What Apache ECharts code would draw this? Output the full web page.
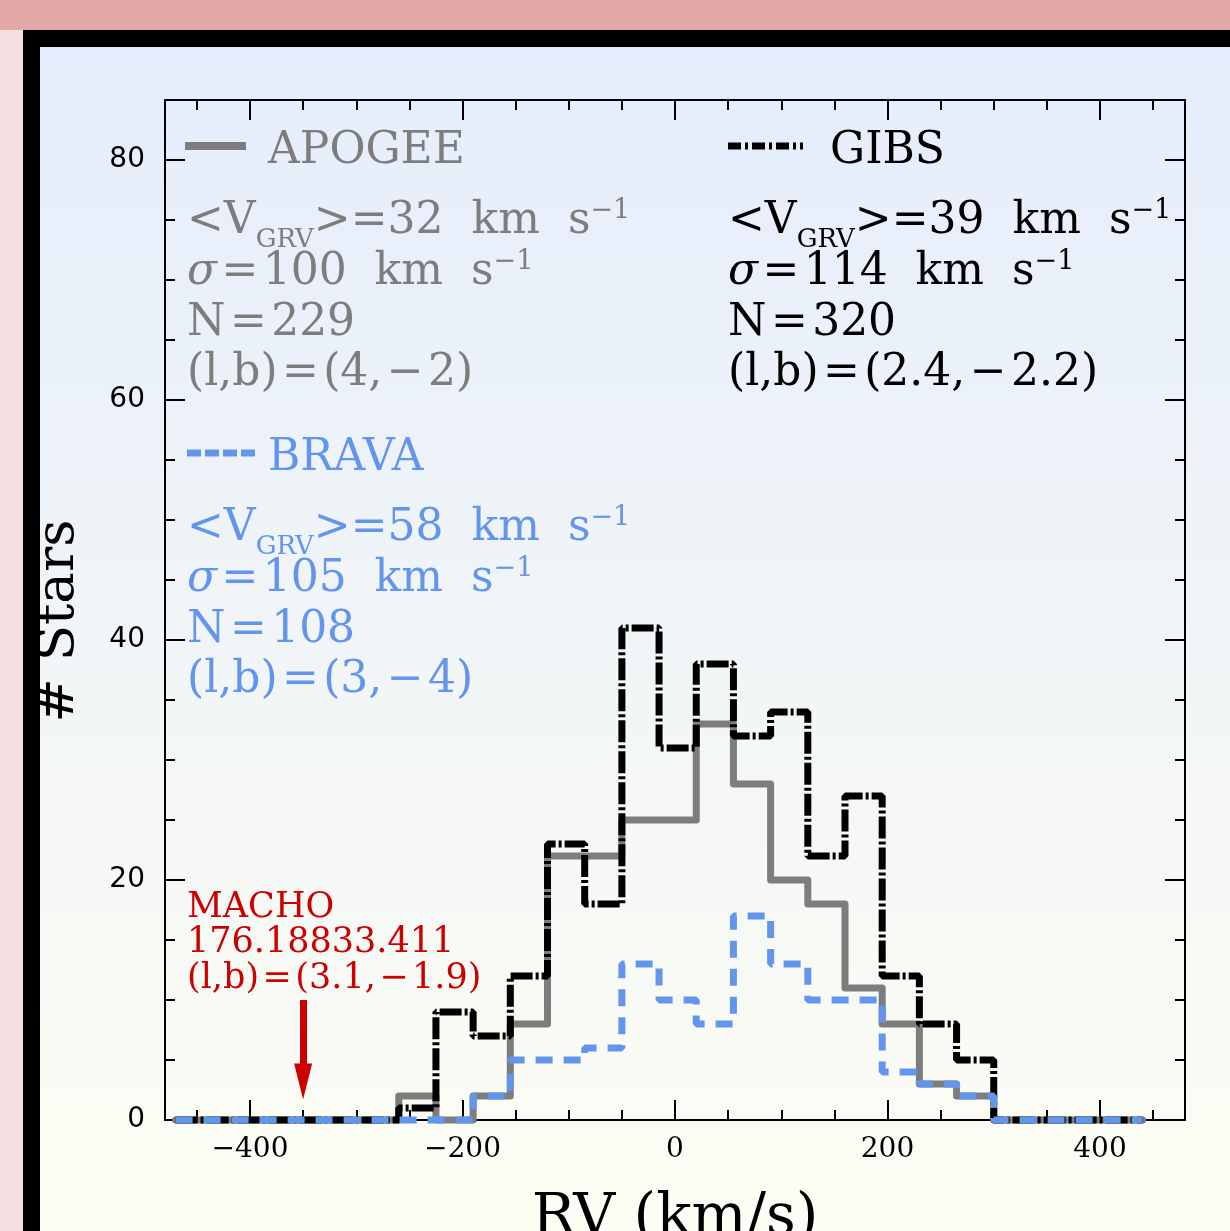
<!DOCTYPE html>
<html>
<head>
<meta charset="utf-8">
<title>RV distribution</title>
<script src="https://cdn.jsdelivr.net/npm/echarts@6/dist/echarts.min.js"></script>
<style>
  html, body { margin: 0; padding: 0; }
  #chart { width: 1230px; height: 1231px; }
</style>
</head>
<body>
<div id="chart"></div>
<script>
// histogram bin edges (km/s), 35 km/s bins
const binEdges = [-470, -435, -400, -365, -330, -295, -260, -225, -190, -155, -120, -85, -50,
  -15, 20, 55, 90, 125, 160, 195, 230, 265, 300, 335, 370, 405, 440]
// counts per bin
const apogeeCounts = [0, 0, 0, 0, 0, 0, 2, 0, 2, 8, 22, 22, 25, 25, 33, 28, 20, 18, 11, 8, 3, 2, 0, 0, 0, 0]
const gibsCounts = [0, 0, 0, 0, 0, 0, 1, 9, 7, 12, 23, 18, 41, 31, 38, 32, 34, 22, 27, 12, 8, 5, 0, 0, 0, 0]
const bravaCounts = [0, 0, 0, 0, 0, 0, 0, 0, 2, 5, 5, 6, 13, 10, 8, 17, 13, 10, 10, 4, 3, 2, 0, 0, 0, 0]

// MACHO star marker: x position and arrow span (counts)
const machoRV = -350
const machoArrow = [10, 3.2]

const xMajorTicks = [-400, -200, 0, 200, 400]
const xMinorTicks = [-450, -350, -300, -250, -150, -100, -50, 50, 100, 150, 250, 300, 350, 450]
const yMajorTicks = [0, 20, 40, 60, 80]
const yMinorTicks = [5, 10, 15, 25, 30, 35, 45, 50, 55, 65, 70, 75]

const GRAY = '#7d7d7d'
const BLUE = '#6495ed'
const RED = '#cc0000'
const SERIF = '"DejaVu Serif", serif'
const HS = '\u200a' // hair space, math-style gaps round = and −

function steps(counts) {
  const pts = counts.map((c, i) => [binEdges[i], c])
  pts.push([binEdges[counts.length], counts[counts.length - 1]])
  return pts
}

function axisOf(kind, grid, position, ticks, len, line, labels) {
  const ax = {
    type: 'value',
    gridIndex: grid,
    position: position,
    min: kind === 'x' ? -480 : 0,
    max: kind === 'x' ? 480 : 85,
    axisLine: { show: line, onZero: false, lineStyle: { color: '#000', width: 2 } },
    axisTick: { show: true, inside: true, length: len, customValues: ticks, lineStyle: { color: '#000', width: 2 } },
    axisLabel: { show: false },
    splitLine: { show: false }
  }
  if (labels) {
    ax.axisLabel = kind === 'x'
      ? { show: true, customValues: ticks, margin: 16, color: '#000', fontSize: 28, fontFamily: SERIF,
          formatter: v => String(v).replace('-', '\u2212') }
      : { show: true, customValues: ticks, margin: 20, color: '#000', fontSize: 28, fontFamily: '"DejaVu Sans", sans-serif' }
  }
  return ax
}

// text pieces laid out one after the other, placed by baseline
const measure = document.createElement('canvas').getContext('2d')
function textRun(x, baseline, parts, color) {
  const out = []
  let cx = x
  parts.forEach(p => {
    const size = p.size || 44
    const font = (p.italic ? 'italic ' : '') + size + 'px ' + SERIF
    out.push({
      type: 'text', x: cx, y: baseline + (p.dy || 0) - size * 0.27, z: 5,
      style: { text: p.t, font: font, fill: color, verticalAlign: 'middle' }
    })
    measure.font = font
    cx += measure.measureText(p.t).width
  })
  return out
}

function lbText(l, b) {
  return '(l,b)' + HS + '=' + HS + '(' + l + ',' + HS + b.replace('-', '\u2212' + HS) + ')'
}

function statBlock(x, top, mean, sigma, n, l, b, color) {
  return [].concat(
    textRun(x, top, [{ t: '<V' }, { t: 'GRV', size: 26, dy: 14 }, { t: '>=' + mean + '  km  s' }, { t: '\u22121', size: 27, dy: -15 }], color),
    textRun(x, top + 51, [{ t: '\u03c3', italic: true }, { t: HS + '=' + HS + sigma + '  km  s' }, { t: '\u22121', size: 27, dy: -15 }], color),
    textRun(x, top + 102, [{ t: 'N' + HS + '=' + HS + n }], color),
    textRun(x, top + 152, [{ t: lbText(l, b) }], color)
  )
}

const graphics = [
  { type: 'rect', z: -10, shape: { x: 0, y: 0, width: 1230, height: 1231 }, style: { fill: '#f4dfe0' } },
  { type: 'rect', z: -10, shape: { x: 0, y: 0, width: 1230, height: 30 }, style: { fill: '#e2a8a8' } },
  {
    type: 'rect', z: -10, shape: { x: 40, y: 47, width: 1190, height: 1184 },
    style: { fill: new echarts.graphic.LinearGradient(0, 0, 0, 1, [
      { offset: 0, color: '#e5edfc' }, { offset: 0.5, color: '#f1f5f7' }, { offset: 1, color: '#fdfdf3' }]) }
  },
  // frame drawn over the y title
  { type: 'rect', z: 20, shape: { x: 23, y: 30, width: 1207, height: 17 }, style: { fill: '#000' } },
  { type: 'rect', z: 20, shape: { x: 23, y: 30, width: 17, height: 1201 }, style: { fill: '#000' } },

  // axis titles
  { type: 'text', z: 5, x: 59, y: 621, rotation: Math.PI / 2,
    style: { text: '# Stars', font: '53px ' + SERIF, fill: '#000', align: 'center', verticalAlign: 'middle' } },
  { type: 'text', z: 5, x: 675, y: 1236 - 58 * 0.3,
    style: { text: 'RV (km/s)', font: '58px ' + SERIF, fill: '#000', align: 'center', verticalAlign: 'middle' } },

  // legend samples
  { type: 'line', z: 5, shape: { x1: 185, y1: 146, x2: 246, y2: 146 }, style: { stroke: GRAY, lineWidth: 8 } },
  { type: 'line', z: 5, shape: { x1: 728, y1: 146, x2: 803, y2: 146 }, style: { stroke: '#000', lineWidth: 7, lineDash: [13, 4, 3, 4] } },
  { type: 'line', z: 5, shape: { x1: 187, y1: 453, x2: 258, y2: 453 }, style: { stroke: BLUE, lineWidth: 7, lineDash: [14, 4] } }
].concat(
  textRun(268, 163, [{ t: 'APOGEE' }], GRAY),
  textRun(830, 163, [{ t: 'GIBS' }], '#000'),
  textRun(268, 470, [{ t: 'BRAVA' }], BLUE),
  statBlock(187, 233, 32, 100, 229, '4', '-2', GRAY),
  statBlock(728, 233, 39, 114, 320, '2.4', '-2.2', '#000'),
  statBlock(187, 540, 58, 105, 108, '3', '-4', BLUE),
  textRun(187, 917, [{ t: 'MACHO', size: 35 }], RED),
  textRun(187, 952, [{ t: '176.18833.411', size: 35 }], RED),
  textRun(187, 988, [{ t: lbText('3.1', '-1.9'), size: 35 }], RED)
)

const chart = echarts.init(document.getElementById('chart'))
chart.setOption({
  animation: false,
  backgroundColor: '#fdfdf3',
  grid: [
    { left: 165, top: 100, width: 1020, height: 1020 },
    { left: 165, top: 100, width: 1020, height: 1020 }
  ],
  xAxis: [
    axisOf('x', 0, 'bottom', xMajorTicks, 20, true, true),
    axisOf('x', 0, 'top', xMajorTicks, 20, true, false),
    axisOf('x', 1, 'bottom', xMinorTicks, 10, false, false),
    axisOf('x', 1, 'top', xMinorTicks, 10, false, false)
  ],
  yAxis: [
    axisOf('y', 0, 'left', yMajorTicks, 20, true, true),
    axisOf('y', 0, 'right', yMajorTicks, 20, true, false),
    axisOf('y', 1, 'left', yMinorTicks, 10, false, false),
    axisOf('y', 1, 'right', yMinorTicks, 10, false, false)
  ],
  graphic: graphics,
  series: [
    {
      name: 'APOGEE', type: 'line', step: 'end', symbol: 'none', clip: false,
      data: steps(apogeeCounts),
      lineStyle: { color: GRAY, width: 7, cap: 'round', join: 'round' }
    },
    {
      name: 'GIBS', type: 'line', step: 'end', symbol: 'none', clip: false,
      data: steps(gibsCounts),
      lineStyle: { color: '#000', width: 7, type: [22, 3, 3, 3], cap: 'butt' }
    },
    {
      name: 'BRAVA', type: 'line', step: 'end', symbol: 'none', clip: false,
      data: steps(bravaCounts),
      lineStyle: { color: BLUE, width: 7, type: [17, 11], cap: 'butt' }
    },
    {
      name: 'MACHO', type: 'line', data: [],
      markLine: {
        silent: true,
        symbol: ['none', 'triangle'],
        symbolSize: [18, 36],
        label: { show: false },
        itemStyle: { color: RED },
        lineStyle: { color: RED, width: 7, type: 'solid' },
        data: [[{ coord: [machoRV, machoArrow[0]] }, { coord: [machoRV, machoArrow[1]] }]]
      }
    }
  ]
})
</script>
</body>
</html>
